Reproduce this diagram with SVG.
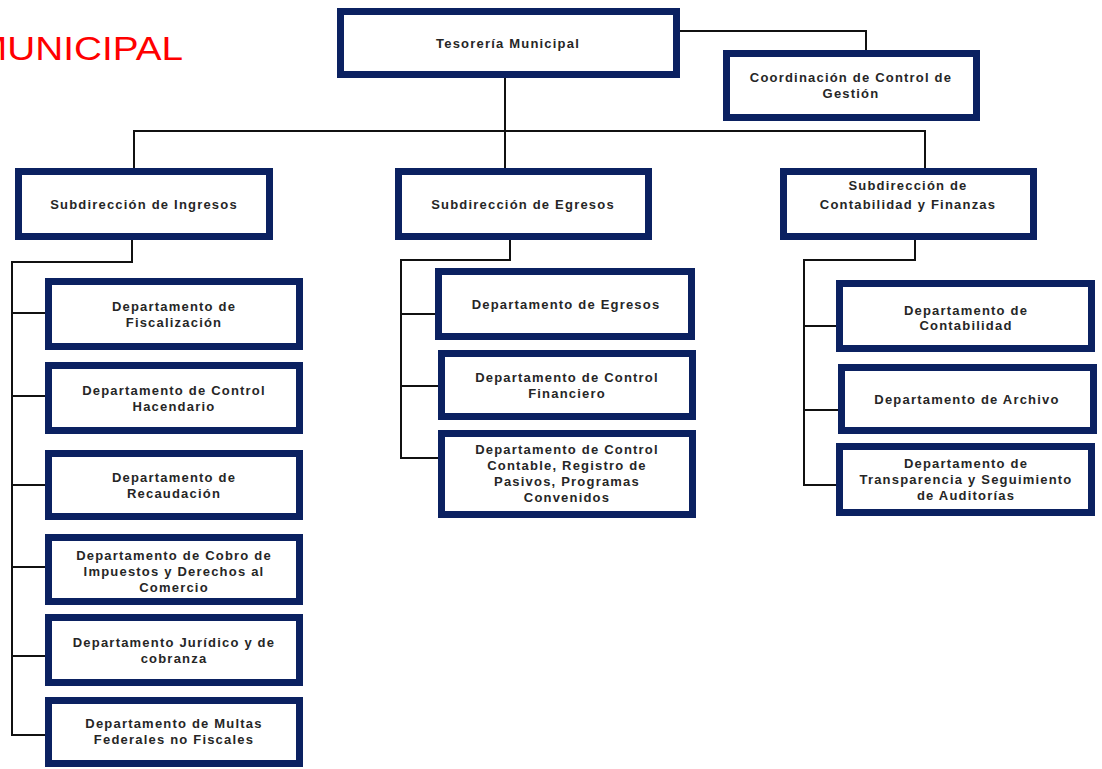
<svg xmlns="http://www.w3.org/2000/svg" width="1102" height="769" viewBox="0 0 1102 769">
<style>
.box{fill:#fff;stroke:#0b2161;stroke-width:7}
.t{font-family:"Liberation Sans",Arial,sans-serif;font-weight:bold;font-size:13px;fill:#262626;text-anchor:middle;letter-spacing:1.2px}
.c{fill:none;stroke:#111;stroke-width:2}
</style>
<rect width="1102" height="769" fill="#fff"/>
<text x="-25" y="60" textLength="208" lengthAdjust="spacingAndGlyphs" style="font-family:'Liberation Sans',Arial,sans-serif;font-size:34px;fill:#ff0000">MUNICIPAL</text>
<g id="connectors">
<path class="c" d="M680,31 H866 V50"/>
<path class="c" d="M505,78 V168"/>
<path class="c" d="M134,168 V131 H925 V168"/>
<path class="c" d="M132,240 V262 H12 V735 H45 M12,313 H45 M12,396 H45 M12,485 H45 M12,567 H45 M12,656 H45"/>
<path class="c" d="M510,240 V260 H401 V458 H438 M401,314 H435 M401,386 H438"/>
<path class="c" d="M915,240 V260 H804 V485 H836 M804,326 H836 M804,410 H838"/>
</g>
<g id="tesoreria"><rect class="box" x="340.5" y="11.5" width="336" height="63"/><text class="t" x="508" y="48">Tesorería Municipal</text></g>
<g id="coordinacion"><rect class="box" x="726.5" y="53.5" width="250" height="64"/><text class="t" x="851" y="82">Coordinación de Control de</text><text class="t" x="851" y="98">Gestión</text></g>
<g id="sub-ingresos"><rect class="box" x="18.5" y="171.5" width="251" height="65"/><text class="t" x="144" y="209">Subdirección de Ingresos</text></g>
<g id="sub-egresos"><rect class="box" x="398.5" y="171.5" width="250" height="65"/><text class="t" x="523" y="209">Subdirección de Egresos</text></g>
<g id="sub-contabilidad"><rect class="box" x="783.5" y="171.5" width="250" height="65"/><text class="t" x="908" y="190">Subdirección de</text><text class="t" x="908" y="209">Contabilidad y Finanzas</text></g>
<g id="dep-fiscalizacion"><rect class="box" x="48.5" y="281.5" width="251" height="65"/><text class="t" x="174" y="311">Departamento de</text><text class="t" x="174" y="327">Fiscalización</text></g>
<g id="dep-hacendario"><rect class="box" x="48.5" y="365.5" width="251" height="65"/><text class="t" x="174" y="395">Departamento de Control</text><text class="t" x="174" y="411">Hacendario</text></g>
<g id="dep-recaudacion"><rect class="box" x="48.5" y="453.5" width="251" height="63"/><text class="t" x="174" y="482">Departamento de</text><text class="t" x="174" y="498">Recaudación</text></g>
<g id="dep-cobro"><rect class="box" x="48.5" y="537.5" width="251" height="64"/><text class="t" x="174" y="560">Departamento de Cobro de</text><text class="t" x="174" y="576">Impuestos y Derechos al</text><text class="t" x="174" y="592">Comercio</text></g>
<g id="dep-juridico"><rect class="box" x="48.5" y="617.5" width="251" height="65"/><text class="t" x="174" y="647">Departamento Jurídico y de</text><text class="t" x="174" y="663">cobranza</text></g>
<g id="dep-multas"><rect class="box" x="48.5" y="700.5" width="251" height="63"/><text class="t" x="174" y="728">Departamento de Multas</text><text class="t" x="174" y="744">Federales no Fiscales</text></g>
<g id="dep-egresos"><rect class="box" x="438.5" y="271.5" width="253" height="65"/><text class="t" x="566" y="309">Departamento de Egresos</text></g>
<g id="dep-financiero"><rect class="box" x="441.5" y="353.5" width="251" height="63"/><text class="t" x="567" y="382">Departamento de Control</text><text class="t" x="567" y="398">Financiero</text></g>
<g id="dep-contable"><rect class="box" x="441.5" y="433.5" width="251" height="81"/><text class="t" x="567" y="454">Departamento de Control</text><text class="t" x="567" y="470">Contable, Registro de</text><text class="t" x="567" y="486">Pasivos, Programas</text><text class="t" x="567" y="502">Convenidos</text></g>
<g id="dep-contabilidad"><rect class="box" x="839.5" y="283.5" width="252" height="65"/><text class="t" x="966" y="315">Departamento de</text><text class="t" x="966" y="330">Contabilidad</text></g>
<g id="dep-archivo"><rect class="box" x="841.5" y="367.5" width="252" height="63"/><text class="t" x="967" y="404">Departamento de Archivo</text></g>
<g id="dep-transparencia"><rect class="box" x="839.5" y="446.5" width="252" height="66"/><text class="t" x="966" y="468">Departamento de</text><text class="t" x="966" y="484">Transparencia y Seguimiento</text><text class="t" x="966" y="500">de Auditorías</text></g>
</svg>
